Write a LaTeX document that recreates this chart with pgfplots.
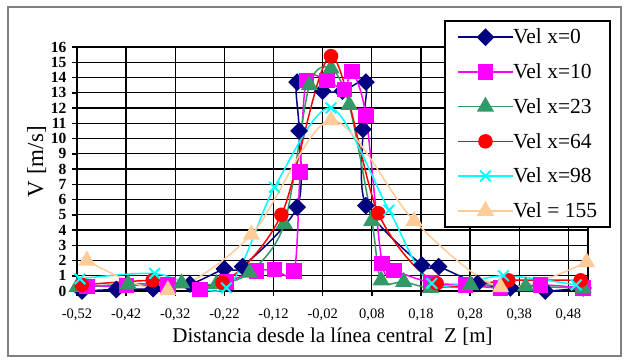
\documentclass[border=0pt]{standalone}
\usepackage{fontspec}
\setmainfont{Liberation Serif}
\usepackage{pgfplots}
\pgfplotsset{compat=1.18}
\definecolor{cnavy}{RGB}{0,0,128}
\definecolor{cmag}{RGB}{255,0,255}
\definecolor{cgreen}{RGB}{51,153,102}
\definecolor{cred}{RGB}{255,0,0}
\definecolor{ccyan}{RGB}{0,255,255}
\definecolor{ctan}{RGB}{255,204,153}
\definecolor{cgray}{RGB}{128,128,128}
\begin{document}
\begin{tikzpicture}
\useasboundingbox (0,0) rectangle (628pt,-362pt);
\fill[white] (0,0) rectangle (628pt,-362pt);
\draw[cgray, line width=2pt] (8pt,-7pt) rectangle (621pt,-356pt);
\begin{axis}[
  at={(77pt,-291pt)}, anchor=south west,
  scale only axis, width=511pt, height=244pt,
  xmin=-0.52, xmax=0.52, ymin=0, ymax=16,
  clip=false,
  axis x line*=bottom, axis y line*=left,
  axis line style={black, line width=1.5pt, -},
  xtick={-0.52,-0.42,-0.32,-0.22,-0.12,-0.02,0.08,0.18,0.28,0.38,0.48},
  xticklabels={{-0,52},{-0,42},{-0,32},{-0,22},{-0,12},{-0,02},{0,08},{0,18},{0,28},{0,38},{0,48}},
  ytick={0,1,2,3,4,5,6,7,8,9,10,11,12,13,14,15},
  yticklabels={0,1,2,3,4,5,6,7,8,9,10,11,12,13,14,15},
  extra x ticks={0.52}, extra x tick labels={},
  extra x tick style={grid style={cgray, line width=2pt}, major tick length=0pt},
  extra y ticks={16}, extra y tick labels={16},
  extra y tick style={grid style={cgray, line width=2pt}},
  grid=major,
  major grid style={black, line width=1.3pt},
  tick style={black, line width=1.5pt},
  major tick length=5pt, tick align=outside,
  xticklabel style={font=\fontsize{14.5}{14.5}\selectfont, yshift=-9pt},
  yticklabel style={font=\bfseries\fontsize{15.5}{15.5}\selectfont, xshift=-2pt},
  xlabel={Distancia desde la línea central~~Z [m]},
  xlabel style={at={(axis description cs:0.5,-0.213)}, anchor=base, font=\fontsize{21}{21}\selectfont},
  ylabel={V [m/s]},
  ylabel style={at={(axis description cs:-0.0665,0.53)}, anchor=base, font=\fontsize{23}{23}\selectfont},
  legend style={at={(1.045,1.1107)}, anchor=north east, draw=black, line width=2pt, fill=white,
    font=\fontsize{21.5}{21.5}\selectfont, inner xsep=13pt, inner ysep=8pt, row sep=18.2pt,
    nodes={inner sep=0pt}},
  legend cell align=left,
  /tikz/every even column/.append style={column sep=6pt},
  legend image code/.code={\draw[mark repeat=2,mark phase=2] plot coordinates {(0pt,0pt) (27pt,0pt) (54pt,0pt)};},
]
\addplot[cnavy, line width=1.5pt, smooth, tension=0.5, mark=square*, mark size=5.5pt,
  mark options={rotate=45, fill=cnavy}] coordinates {
(-0.51,0.0) (-0.44,0.1) (-0.365,0.15) (-0.29,0.45) (-0.22,1.45) (-0.183,1.6)
(-0.072,5.5) (-0.068,10.5) (-0.072,13.7) (-0.02,13.1) (0.02,13.1) (0.068,13.7)
(0.062,10.6) (0.068,5.6) (0.182,1.7) (0.216,1.6) (0.295,0.5) (0.362,0.2)
(0.433,0.0) (0.51,0.2)};
\addlegendentry{Vel x=0}
\addplot[cmag, line width=1.5pt, smooth, tension=0.5, mark=square*, mark size=7pt,
  mark options={fill=cmag}] coordinates {
(-0.50,0.3) (-0.419,0.35) (-0.335,0.4) (-0.27,0.1) (-0.216,0.6) (-0.155,1.3)
(-0.118,1.4) (-0.078,1.3) (-0.066,7.8) (-0.053,13.8) (-0.011,13.8) (0.024,13.2)
(0.04,14.4) (0.068,11.5) (0.101,1.8) (0.125,1.35) (0.2,0.55) (0.271,0.4)
(0.342,0.2) (0.423,0.4) (0.51,0.2)};
\addlegendentry{Vel x=10}
\addplot[cgreen, line width=1.5pt, smooth, tension=0.5, mark=triangle*, mark size=8.5pt,
  mark options={fill=cgreen}] coordinates {
(-0.52,0.25) (-0.416,0.45) (-0.307,0.5) (-0.236,0.45) (-0.169,1.2) (-0.098,4.4)
(-0.047,13.5) (-0.003,14.6) (0.034,12.2) (0.08,4.6) (0.099,0.7) (0.145,0.6)
(0.2,0.2) (0.281,0.4) (0.393,0.3) (0.51,0.2)};
\addlegendentry{Vel x=23}
\addplot[cred, line width=1.5pt, smooth, tension=0.5, mark=*, mark size=6.5pt,
  mark options={fill=cred}] coordinates {
(-0.51,0.4) (-0.366,0.7) (-0.224,0.55) (-0.104,5.0) (-0.003,15.4) (0.093,5.1)
(0.212,0.5) (0.358,0.7) (0.505,0.7)};
\addlegendentry{Vel x=64}
\addplot[ccyan, line width=1.5pt, smooth, tension=0.5, mark=x, mark size=7.5pt,
  mark options={line width=2pt}] coordinates {
(-0.514,0.8) (-0.362,1.15) (-0.216,0.2) (-0.118,6.8) (-0.003,12.0) (0.115,5.3)
(0.202,0.5) (0.348,1.0) (0.496,0.4)};
\addlegendentry{Vel x=98}
\addplot[ctan, line width=1.5pt, smooth, tension=0.5, mark=triangle*, mark size=8.5pt,
  mark options={fill=ctan}] coordinates {
(-0.50,2.0) (-0.335,0.05) (-0.165,3.7) (-0.003,11.2) (0.166,4.6) (0.342,0.25)
(0.517,1.9)};
\addlegendentry{Vel = 155}
\end{axis}
\end{tikzpicture}
\end{document}
